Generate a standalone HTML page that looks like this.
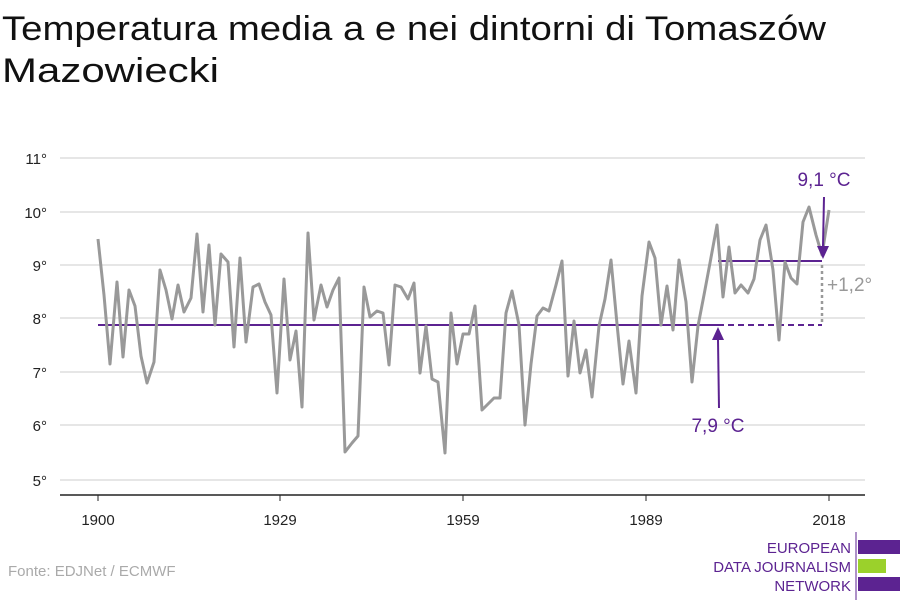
<!DOCTYPE html><html><head><style>body{margin:0;background:#fff;font-family:"Liberation Sans",sans-serif}</style></head><body>
<svg width="900" height="600" xmlns="http://www.w3.org/2000/svg" font-family="Liberation Sans, sans-serif">
<text x="2" y="40" font-size="34" fill="#111" textLength="824" lengthAdjust="spacingAndGlyphs">Temperatura media a e nei dintorni di Tomaszów</text>
<text x="2" y="82" font-size="34" fill="#111" textLength="217" lengthAdjust="spacingAndGlyphs">Mazowiecki</text>
<g stroke="#ddd" stroke-width="1.5">
<line x1="60" x2="865" y1="158" y2="158"/><line x1="60" x2="865" y1="212" y2="212"/><line x1="60" x2="865" y1="265" y2="265"/><line x1="60" x2="865" y1="318" y2="318"/><line x1="60" x2="865" y1="372" y2="372"/><line x1="60" x2="865" y1="425" y2="425"/><line x1="60" x2="865" y1="480" y2="480"/>
</g>
<g font-size="15" fill="#222" text-anchor="end">
<text x="47" y="164">11°</text><text x="47" y="218">10°</text><text x="47" y="271">9°</text><text x="47" y="324">8°</text><text x="47" y="378">7°</text><text x="47" y="431">6°</text><text x="47" y="486">5°</text>
</g>
<line x1="60" x2="865" y1="495" y2="495" stroke="#222" stroke-width="1.5"/>
<g stroke="#222"><line x1="98" x2="98" y1="495" y2="501"/><line x1="280" x2="280" y1="495" y2="501"/><line x1="463" x2="463" y1="495" y2="501"/><line x1="646" x2="646" y1="495" y2="501"/><line x1="829" x2="829" y1="495" y2="501"/></g>
<g font-size="15" fill="#222" text-anchor="middle">
<text x="98" y="525">1900</text><text x="280" y="525">1929</text><text x="463" y="525">1959</text><text x="646" y="525">1989</text><text x="829" y="525">2018</text>
</g>
<line x1="98" x2="718" y1="325" y2="325" stroke="#5c2391" stroke-width="2"/>
<line x1="718" x2="822" y1="325" y2="325" stroke="#5c2391" stroke-width="2" stroke-dasharray="6,4"/>
<line x1="718" x2="822" y1="261" y2="261" stroke="#5c2391" stroke-width="2"/>
<line x1="822" x2="822" y1="265" y2="322" stroke="#999" stroke-width="2.5" stroke-dasharray="3,3"/>
<polyline fill="none" stroke="#999" stroke-width="3" stroke-linejoin="round" points="98,239 104,295 110,364 117,282 123,357 129,290 135,306 141,356 147,383 154,362 160,270 166,290 172,319 178,285 184,312 191,298 197,234 203,312 209,245 215,325 221,254 228,262 234,347 240,258 246,342 253,287 259,284 265,302 271,315 277,393 284,279 290,360 296,331 302,407 308,233 314,320 321,285 327,307 333,290 339,278 345,452 352,443 358,436 364,287 370,317 377,311 383,313 389,365 395,285 401,287 408,299 414,283 420,373 426,326 432,379 438,382 445,453 451,313 457,364 463,334 469,334 475,306 482,410 488,404 494,398 500,398 506,313 512,291 519,325 525,425 531,364 537,316 543,308 549,311 556,285 562,261 568,376 574,321 580,373 586,350 592,397 599,326 605,299 611,260 617,324 623,384 629,341 636,393 642,296 649,242 655,258 661,325 667,286 673,330 679,260 686,302 692,382 698,326 704,295 710,263 717,225 723,297 729,247 735,293 741,285 748,293 754,279 760,240 766,225 773,270 779,340 785,262 791,278 797,284 803,222 809,207 816,235 822,255 829,210"/>
<line x1="719" x2="718" y1="408" y2="340" stroke="#5c2391" stroke-width="2"/>
<polygon points="712,340 724,340 718,327" fill="#5c2391"/>
<line x1="824" x2="823" y1="197" y2="246" stroke="#5c2391" stroke-width="2"/>
<polygon points="817,246 829,246 823,259" fill="#5c2391"/>
<text x="718" y="432" font-size="19" fill="#5c2391" text-anchor="middle">7,9 °C</text>
<text x="824" y="186" font-size="19" fill="#5c2391" text-anchor="middle">9,1 °C</text>
<text x="827" y="291" font-size="19" fill="#999">+1,2°</text>
<text x="8" y="576" font-size="15" fill="#aaa">Fonte: EDJNet / ECMWF</text>
<line x1="856" x2="856" y1="532" y2="600" stroke="#5c2391" stroke-width="1"/>
<g font-size="15" fill="#5c2391" text-anchor="end">
<text x="851" y="553">EUROPEAN</text><text x="851" y="572">DATA JOURNALISM</text><text x="851" y="591">NETWORK</text>
</g>
<rect x="858" y="540" width="42" height="14" fill="#5c2391"/>
<rect x="858" y="559" width="28" height="14" fill="#9bd12b"/>
<rect x="858" y="577" width="42" height="14" fill="#5c2391"/>
</svg>
</body></html>
